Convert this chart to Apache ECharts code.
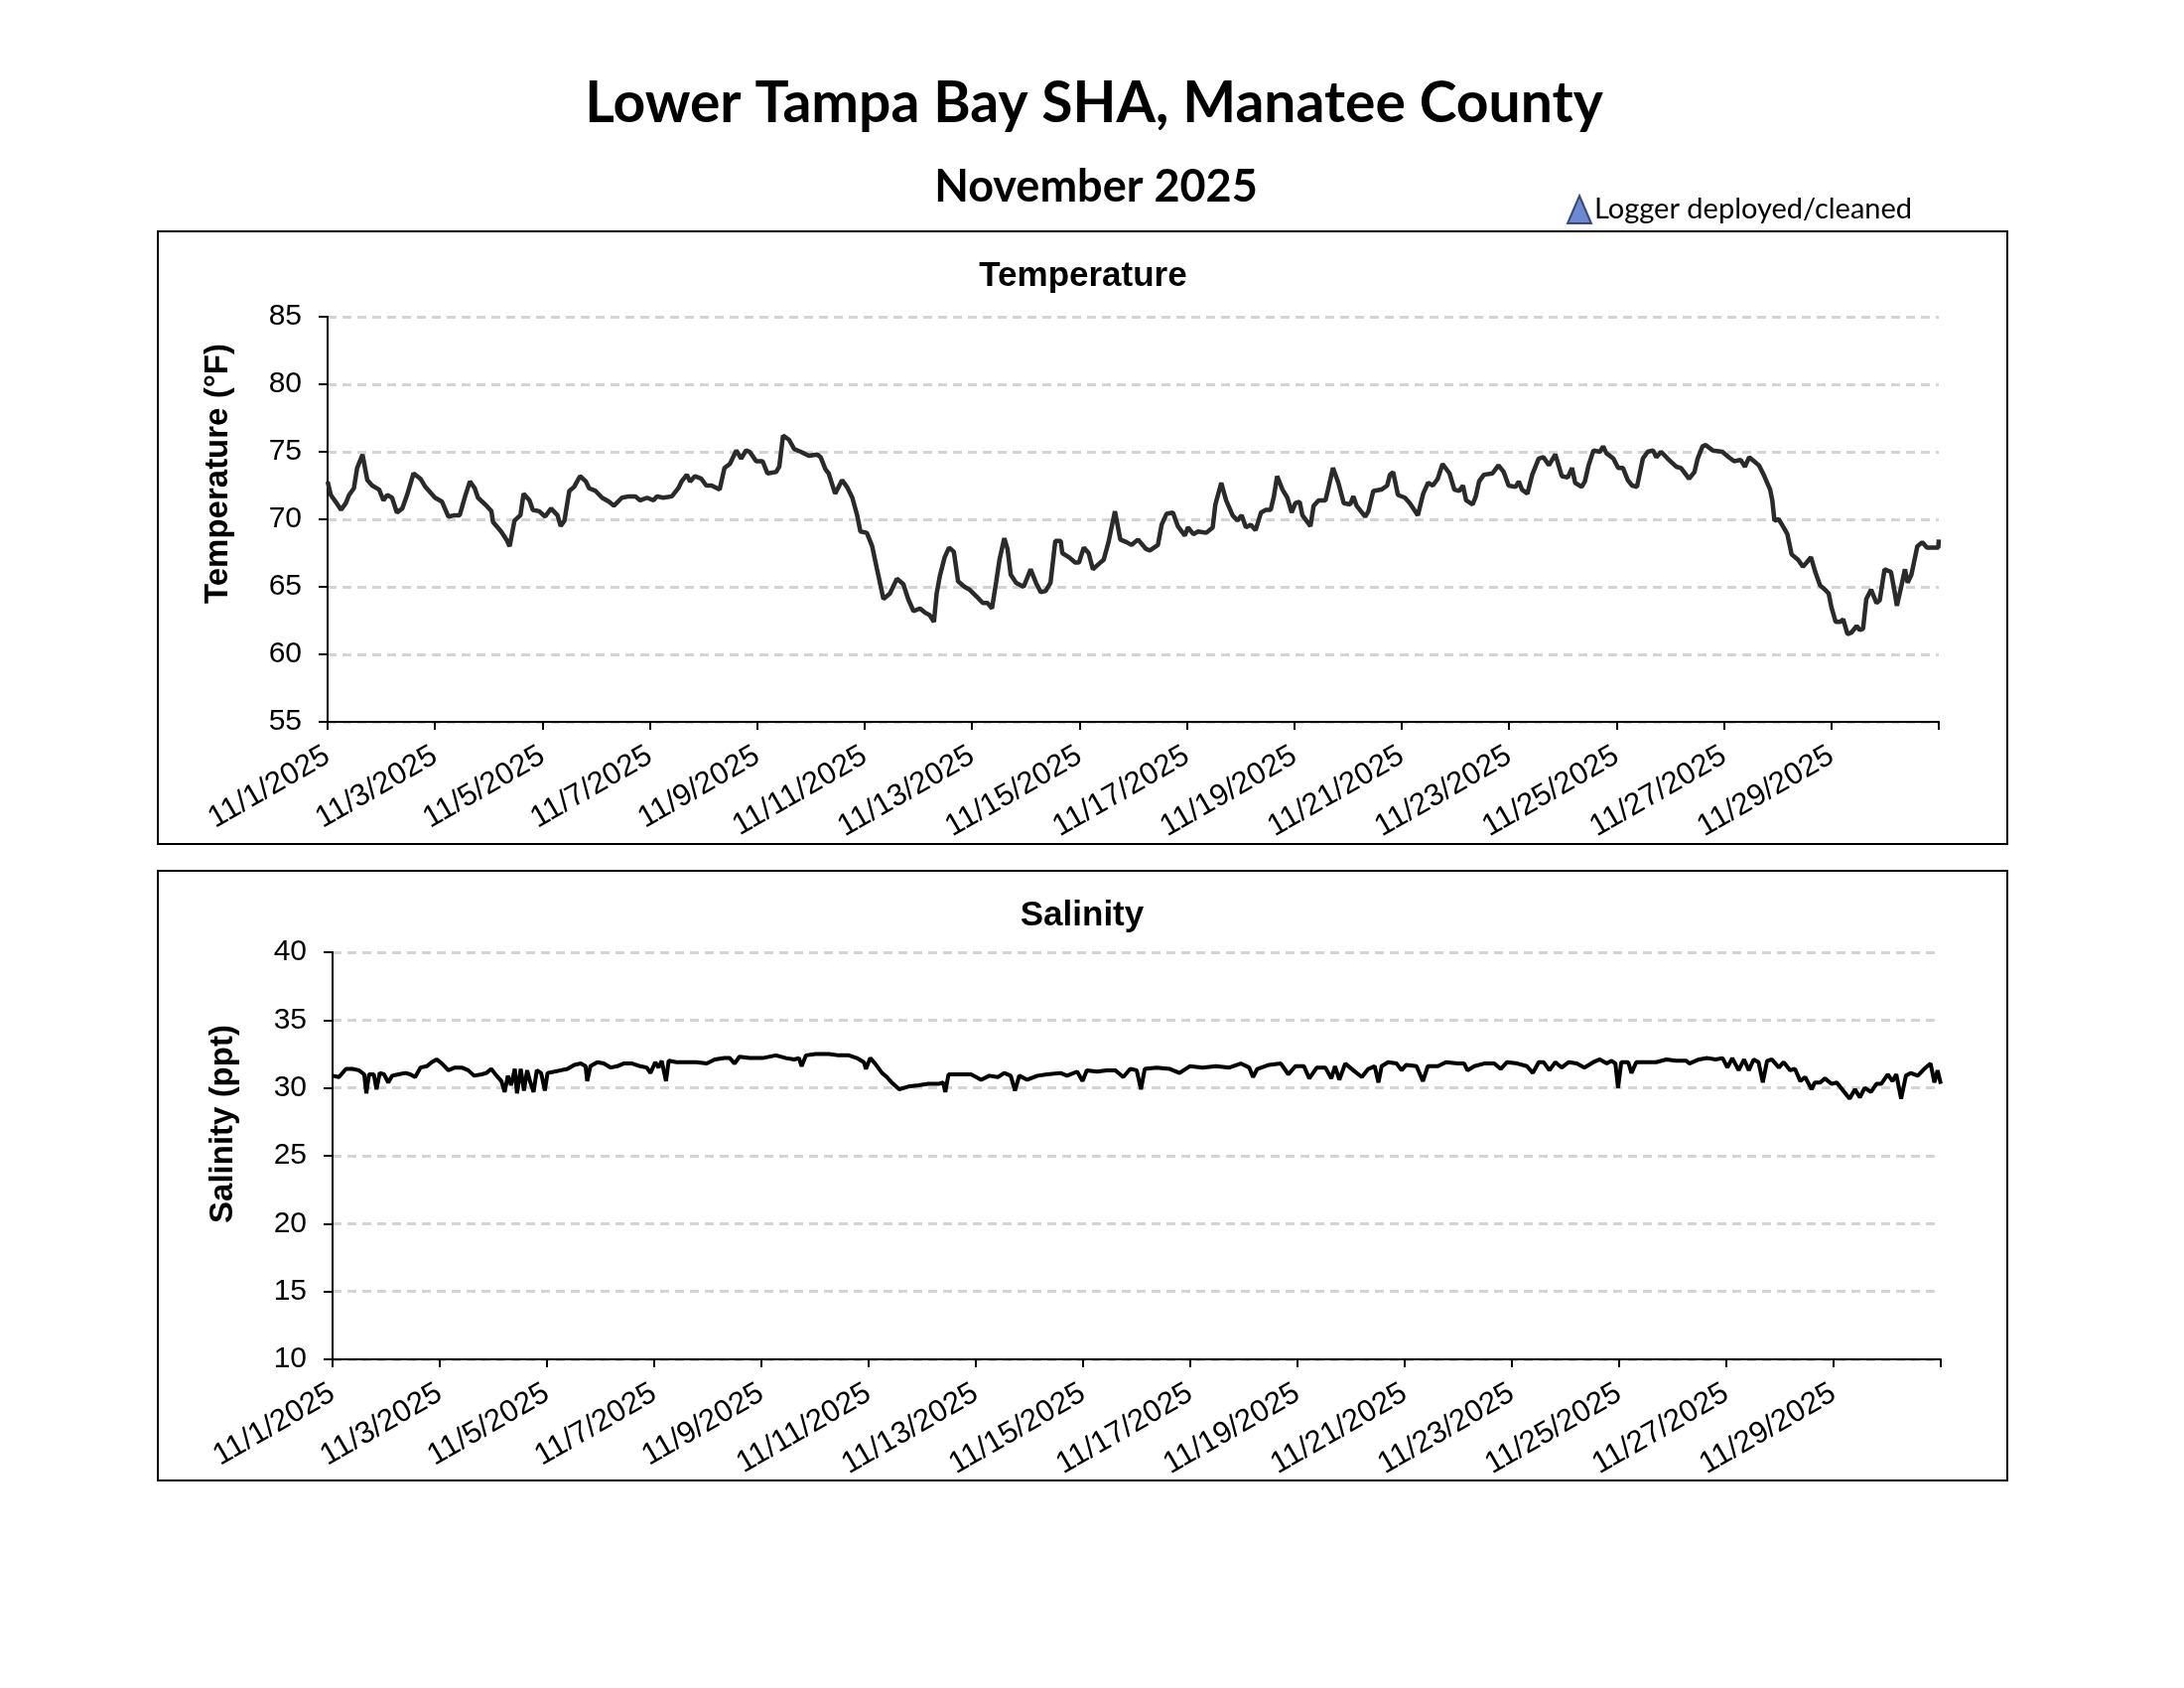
<!DOCTYPE html>
<html>
<head>
<meta charset="utf-8">
<script src="https://cdn.jsdelivr.net/npm/echarts@6/dist/echarts.min.js"></script>
<style>
  html, body { margin: 0; padding: 0; background: #fff; }
  #chart { width: 2200px; height: 1700px; }
</style>
</head>
<body>
<div id="chart"></div>
<script>
// Days since 11/1/2025 00:00 and logger readings
const tempDay = [
  0.00, 0.06, 0.15, 0.25, 0.34, 0.40, 0.49, 0.55, 0.65, 0.74, 0.83, 0.96, 1.04, 1.11, 1.20, 1.29, 1.39, 1.48,
  1.60, 1.73, 1.82, 2.00, 2.13, 2.25, 2.37, 2.46, 2.56, 2.65, 2.74, 2.80, 2.96, 3.05, 3.08, 3.23, 3.33, 3.39,
  3.48, 3.59, 3.65, 3.76, 3.82, 3.94, 4.05, 4.16, 4.28, 4.34, 4.41, 4.50, 4.59, 4.70, 4.81, 4.87, 4.99, 5.11,
  5.24, 5.33, 5.48, 5.61, 5.73, 5.82, 5.95, 6.07, 6.13, 6.25, 6.41, 6.53, 6.59, 6.69, 6.75, 6.84, 6.96, 7.05,
  7.15, 7.30, 7.39, 7.49, 7.61, 7.70, 7.79, 7.86, 7.98, 8.10, 8.19, 8.35, 8.41, 8.48, 8.59, 8.69, 8.81, 8.96,
  9.12, 9.18, 9.27, 9.33, 9.45, 9.58, 9.67, 9.77, 9.86, 9.92, 10.04, 10.14, 10.23, 10.35, 10.47, 10.60, 10.72,
  10.81, 10.91, 11.03, 11.12, 11.21, 11.29, 11.34, 11.40, 11.49, 11.57, 11.66, 11.74, 11.86, 11.95, 12.08,
  12.20, 12.29, 12.37, 12.45, 12.51, 12.60, 12.66, 12.72, 12.82, 12.96, 13.09, 13.19, 13.28, 13.37, 13.46,
  13.55, 13.65, 13.68, 13.80, 13.92, 13.99, 14.08, 14.17, 14.25, 14.36, 14.45, 14.54, 14.66, 14.76, 14.88,
  14.97, 15.09, 15.24, 15.31, 15.46, 15.53, 15.62, 15.74, 15.83, 15.96, 16.02, 16.12, 16.21, 16.36, 16.48,
  16.53, 16.64, 16.73, 16.85, 16.94, 17.02, 17.10, 17.19, 17.28, 17.38, 17.47, 17.56, 17.62, 17.68, 17.78,
  17.87, 17.95, 18.02, 18.10, 18.15, 18.30, 18.36, 18.45, 18.58, 18.64, 18.72, 18.82, 18.92, 19.04, 19.10,
  19.16, 19.32, 19.38, 19.47, 19.62, 19.73, 19.78, 19.84, 19.93, 20.06, 20.15, 20.30, 20.40, 20.49, 20.58,
  20.67, 20.76, 20.89, 20.98, 21.07, 21.14, 21.20, 21.32, 21.38, 21.44, 21.53, 21.69, 21.80, 21.90, 21.99,
  22.12, 22.18, 22.24, 22.34, 22.43, 22.55, 22.64, 22.74, 22.86, 22.98, 23.09, 23.17, 23.23, 23.35, 23.41,
  23.48, 23.57, 23.69, 23.75, 23.81, 23.94, 24.03, 24.12, 24.21, 24.29, 24.38, 24.49, 24.58, 24.68, 24.74,
  24.83, 24.95, 25.11, 25.20, 25.35, 25.45, 25.51, 25.60, 25.66, 25.79, 25.97, 26.09, 26.19, 26.31, 26.39,
  26.47, 26.56, 26.65, 26.74, 26.86, 26.90, 26.94, 27.02, 27.11, 27.18, 27.26, 27.38, 27.47, 27.54, 27.62,
  27.70, 27.79, 27.88, 27.95, 28.00, 28.08, 28.16, 28.22, 28.30, 28.37, 28.47, 28.53, 28.59, 28.65, 28.74,
  28.84, 28.90, 28.99, 29.11, 29.17, 29.22, 29.30, 29.37, 29.42, 29.49, 29.60, 29.69, 29.78, 29.91, 29.99, 30.00
];
const tempF = [
  72.8, 71.8, 71.3, 70.7, 71.2, 71.8, 72.3, 73.8, 74.8, 72.9, 72.5, 72.2, 71.4, 71.8, 71.6, 70.5, 70.8, 71.8,
  73.4, 73.0, 72.4, 71.6, 71.3, 70.2, 70.3, 70.3, 71.7, 72.8, 72.3, 71.6, 71.0, 70.6, 69.8, 69.1, 68.5, 68.0,
  69.9, 70.3, 71.9, 71.4, 70.7, 70.6, 70.2, 70.8, 70.3, 69.5, 69.9, 72.1, 72.4, 73.2, 72.8, 72.3, 72.1, 71.6,
  71.3, 71.0, 71.6, 71.7, 71.7, 71.4, 71.6, 71.4, 71.7, 71.6, 71.7, 72.3, 72.8, 73.3, 72.8, 73.2, 73.0, 72.5,
  72.5, 72.2, 73.8, 74.1, 75.1, 74.5, 75.1, 75.0, 74.3, 74.3, 73.4, 73.5, 73.9, 76.2, 75.9, 75.2, 75.0, 74.7,
  74.8, 74.6, 73.7, 73.4, 71.9, 72.9, 72.4, 71.6, 70.3, 69.1, 69.0, 68.0, 66.3, 64.1, 64.5, 65.6, 65.2,
  64.1, 63.2, 63.4, 63.1, 62.9, 62.4, 64.5, 65.8, 67.2, 67.9, 67.6, 65.4, 65.0, 64.8, 64.3,
  63.8, 63.8, 63.4, 65.4, 67.0, 68.6, 67.8, 65.9, 65.3, 65.0, 66.3, 65.3, 64.6, 64.7, 65.3,
  68.4, 68.4, 67.5, 67.2, 66.8, 66.8, 67.9, 67.5, 66.3, 66.7, 67.0, 68.3, 70.6, 68.5, 68.3,
  68.1, 68.5, 67.8, 67.7, 68.1, 69.6, 70.4, 70.5, 69.5, 68.8, 69.4, 68.9, 69.1, 69.0, 69.4,
  71.1, 72.7, 71.4, 70.3, 69.9, 70.3, 69.4, 69.6, 69.2, 70.5, 70.7, 70.7, 71.7, 73.2, 72.2,
  71.6, 70.5, 71.2, 71.3, 70.3, 69.5, 71.0, 71.4, 71.4, 72.4, 73.8, 72.7, 71.2, 71.1, 71.7,
  71.0, 70.2, 70.6, 72.1, 72.2, 72.5, 73.3, 73.5, 71.8, 71.6, 71.2, 70.3, 71.9, 72.7, 72.5,
  73.0, 74.1, 73.4, 72.2, 72.1, 72.5, 71.4, 71.1, 71.7, 72.8, 73.3, 73.4, 74.0, 73.5, 72.5,
  72.4, 72.8, 72.2, 71.9, 73.3, 74.5, 74.6, 74.0, 74.8, 73.2, 73.1, 73.8, 72.7, 72.4, 72.8,
  74.0, 75.1, 75.0, 75.4, 74.9, 74.5, 73.8, 73.8, 72.9, 72.5, 72.4, 74.5, 75.0, 75.1, 74.6,
  75.0, 74.5, 73.9, 73.8, 73.0, 73.5, 74.5, 75.4, 75.5, 75.1, 75.0, 74.6, 74.3, 74.4, 73.9,
  74.6, 74.3, 74.0, 73.3, 72.2, 71.4, 69.9, 70.0, 69.4, 68.9, 67.4, 67.0, 66.5, 66.8, 67.2,
  66.1, 65.1, 64.8, 64.5, 63.5, 62.4, 62.4, 62.6, 61.5, 61.6, 62.1, 61.8, 61.9, 64.1, 64.8,
  63.8, 64.0, 66.3, 66.1, 64.8, 63.6, 65.0, 66.3, 65.3, 65.9, 68.0, 68.3, 67.9, 67.9, 67.9, 68.5
];

const salDay = [
  0.00, 0.12, 0.25, 0.37, 0.49, 0.59, 0.63, 0.68, 0.77, 0.82, 0.88, 0.96, 1.04, 1.11, 1.23, 1.36, 1.45, 1.54,
  1.64, 1.76, 1.85, 1.94, 2.04, 2.16, 2.28, 2.41, 2.53, 2.64, 2.78, 2.87, 2.96, 3.06, 3.15, 3.21, 3.27, 3.33,
  3.40, 3.44, 3.51, 3.57, 3.63, 3.69, 3.75, 3.81, 3.89, 3.96, 4.01, 4.14, 4.26, 4.38, 4.51, 4.63, 4.72, 4.75,
  4.81, 4.94, 5.06, 5.19, 5.31, 5.43, 5.59, 5.74, 5.86, 5.93, 6.02, 6.08, 6.14, 6.22, 6.27, 6.42, 6.60, 6.79,
  6.98, 7.13, 7.31, 7.41, 7.50, 7.59, 7.78, 8.02, 8.27, 8.46, 8.61, 8.70, 8.75, 8.83, 9.01, 9.26, 9.44, 9.63,
  9.78, 9.91, 9.95, 10.03, 10.12, 10.25, 10.34, 10.43, 10.57, 10.74, 10.93, 11.11, 11.30, 11.39, 11.43, 11.49,
  11.67, 11.91, 12.10, 12.25, 12.41, 12.53, 12.65, 12.73, 12.81, 12.96, 13.15, 13.33, 13.58, 13.70, 13.89,
  13.99, 14.07, 14.26, 14.44, 14.60, 14.75, 14.88, 15.00, 15.08, 15.15, 15.37, 15.62, 15.80, 15.99, 16.23,
  16.48, 16.73, 16.94, 17.10, 17.17, 17.25, 17.47, 17.69, 17.83, 17.96, 18.12, 18.22, 18.36, 18.52, 18.63,
  18.70, 18.78, 18.89, 19.04, 19.20, 19.32, 19.44, 19.51, 19.57, 19.69, 19.85, 19.94, 20.03, 20.22, 20.34,
  20.43, 20.62, 20.77, 20.99, 21.11, 21.17, 21.30, 21.48, 21.67, 21.79, 21.91, 22.10, 22.28, 22.39, 22.50,
  22.59, 22.70, 22.81, 22.93, 23.06, 23.21, 23.35, 23.52, 23.64, 23.77, 23.86, 23.93, 23.98, 24.04, 24.17,
  24.23, 24.32, 24.51, 24.69, 24.88, 25.06, 25.25, 25.31, 25.49, 25.65, 25.80, 25.93, 26.02, 26.11, 26.23,
  26.33, 26.42, 26.51, 26.60, 26.68, 26.76, 26.85, 26.98, 27.07, 27.19, 27.28, 27.38, 27.47, 27.59, 27.65,
  27.75, 27.84, 27.96, 28.06, 28.18, 28.30, 28.40, 28.49, 28.58, 28.70, 28.80, 28.89, 29.01, 29.10, 29.17,
  29.26, 29.35, 29.44, 29.57, 29.69, 29.81, 29.88, 29.94, 30.00
];
const salPpt = [
  30.9, 30.8, 31.4, 31.4, 31.3, 31.0, 29.6, 31.0, 31.0, 29.9, 31.1, 31.0, 30.4, 30.9, 31.0, 31.1, 31.0, 30.8,
  31.5, 31.6, 31.9, 32.1, 31.8, 31.3, 31.5, 31.5, 31.3, 30.9, 31.0, 31.1, 31.4, 30.9, 30.5, 29.7, 30.9, 30.2,
  31.4, 29.6, 31.4, 29.8, 31.3, 30.4, 29.7, 31.3, 31.1, 29.8, 31.1, 31.2, 31.3, 31.4, 31.7, 31.8, 31.6, 30.5,
  31.6, 31.9, 31.8, 31.5, 31.6, 31.8, 31.8, 31.6, 31.5, 31.1, 31.9, 31.5, 32.0, 30.5, 32.0, 31.9, 31.9, 31.9,
  31.8, 32.1, 32.2, 32.2, 31.8, 32.3, 32.2, 32.2, 32.4, 32.2, 32.1, 32.2, 31.6, 32.4, 32.5, 32.5, 32.4, 32.4,
  32.2, 31.9, 31.4, 32.2, 31.8, 31.1, 30.8, 30.4, 29.9, 30.1, 30.2, 30.3, 30.3, 30.4, 29.7, 31.0,
  31.0, 31.0, 30.6, 30.9, 30.8, 31.1, 30.9, 29.8, 30.9, 30.6, 30.9, 31.0, 31.1, 30.9, 31.2,
  30.5, 31.3, 31.2, 31.3, 31.3, 30.8, 31.4, 31.3, 29.9, 31.4, 31.5, 31.4, 31.1, 31.6, 31.5,
  31.6, 31.5, 31.8, 31.5, 30.8, 31.4, 31.7, 31.8, 31.0, 31.6, 31.6, 30.7, 31.5, 31.5, 30.7,
  31.6, 30.6, 31.8, 31.3, 30.8, 31.4, 31.6, 30.4, 31.6, 31.9, 31.8, 31.3, 31.7, 31.6, 30.5,
  31.6, 31.6, 31.9, 31.8, 31.8, 31.3, 31.6, 31.8, 31.8, 31.4, 31.9, 31.8, 31.6, 31.1, 31.9,
  31.9, 31.3, 31.9, 31.5, 31.9, 31.8, 31.5, 31.9, 32.1, 31.8, 32.0, 31.8, 30.0, 31.9, 31.9,
  31.1, 31.9, 31.9, 31.9, 32.1, 32.0, 32.0, 31.8, 32.1, 32.2, 32.1, 32.2, 31.5, 32.2, 31.3,
  32.1, 31.3, 32.1, 31.9, 30.4, 32.0, 32.1, 31.5, 31.9, 31.3, 31.4, 30.5, 30.8, 29.9, 30.4,
  30.4, 30.7, 30.3, 30.4, 29.8, 29.2, 29.9, 29.3, 30.0, 29.7, 30.3, 30.3, 31.0, 30.5, 31.0,
  29.2, 30.9, 31.1, 30.9, 31.4, 31.8, 30.4, 31.3, 30.3
];

const dayLabel = (v) => (v < 30 ? '11/' + (v + 1) + '/2025' : '');

const AXIS_FONT = 'Liberation Sans, Arial, sans-serif';
const TITLE_FONT = 'Lato, Open Sans, sans-serif';

function xAxisFor(gridIndex) {
  return {
    type: 'value', gridIndex, min: 0, max: 30, interval: 2,
    axisLine: { show: true, onZero: false, lineStyle: { color: '#000', width: 2 } },
    axisTick: { show: true, length: 8, lineStyle: { color: '#000', width: 2 } },
    axisLabel: {
      rotate: 30, margin: 32, color: '#000', fontSize: 31, fontFamily: AXIS_FONT,
      formatter: dayLabel
    },
    splitLine: { show: false }
  };
}

// shiftUp moves the rotated axis name above the plot's middle, as in the source
function yAxisFor(gridIndex, name, min, max, shiftUp) {
  return {
    type: 'value', gridIndex, min, max, interval: 5,
    name, nameLocation: 'middle', nameGap: 94,
    nameTextStyle: {
      color: '#000', fontSize: 33, fontWeight: 'bold', fontFamily: AXIS_FONT,
      padding: [0, 0, 0, shiftUp * 2]
    },
    axisLine: { show: true, lineStyle: { color: '#000', width: 2 } },
    axisTick: { show: true, length: 9, lineStyle: { color: '#000', width: 2 } },
    axisLabel: { margin: 26, color: '#000', fontSize: 30, fontFamily: AXIS_FONT },
    splitLine: { show: true, lineStyle: { color: '#d4d4d4', width: 3, type: [9, 6] } }
  };
}

const chart = echarts.init(document.getElementById('chart'), null, { renderer: 'canvas' });

chart.setOption({
  backgroundColor: '#fff',
  animation: false,
  title: [
    { text: 'Lower Tampa Bay SHA, Manatee County', left: 1102, top: 76, textAlign: 'center', padding: 0,
      textStyle: { fontFamily: TITLE_FONT, fontSize: 57, fontWeight: 'bold', color: '#000' } },
    { text: 'November 2025', left: 1104, top: 166, textAlign: 'center', padding: 0,
      textStyle: { fontFamily: TITLE_FONT, fontSize: 45, fontWeight: 'bold', color: '#000' } },
    { text: 'Temperature', left: 1091, top: 261, textAlign: 'center', padding: 0,
      textStyle: { fontFamily: AXIS_FONT, fontSize: 35, fontWeight: 'bold', color: '#000' } },
    { text: 'Salinity', left: 1090, top: 905, textAlign: 'center', padding: 0,
      textStyle: { fontFamily: AXIS_FONT, fontSize: 35, fontWeight: 'bold', color: '#000' } }
  ],
  legend: {
    left: 1578, top: 196, padding: 0,
    data: [{ name: 'Logger deployed/cleaned', icon: 'triangle' }],
    itemWidth: 24, itemHeight: 28,
    itemStyle: { color: '#4a6cc8', borderColor: '#1c2c5c', borderWidth: 2 },
    textStyle: { fontFamily: TITLE_FONT, fontSize: 29, color: '#000', padding: [0, 0, 0, -2] }
  },
  graphic: [
    { type: 'rect', shape: { x: 159, y: 233, width: 1863, height: 617 },
      style: { fill: 'none', stroke: '#000', lineWidth: 2 }, z: 0 },
    { type: 'rect', shape: { x: 159, y: 877, width: 1863, height: 614 },
      style: { fill: 'none', stroke: '#000', lineWidth: 2 }, z: 0 }
  ],
  grid: [
    { left: 330, right: 247, top: 319, height: 408 },
    { left: 335, right: 245, top: 959, height: 410 }
  ],
  xAxis: [xAxisFor(0), xAxisFor(1)],
  yAxis: [
    yAxisFor(0, 'Temperature (°F)', 55, 85, 46),
    yAxisFor(1, 'Salinity (ppt)', 10, 40, 32)
  ],
  series: [
    {
      name: 'Temperature', type: 'line', xAxisIndex: 0, yAxisIndex: 0,
      data: tempDay.map((d, i) => [d, tempF[i]]),
      showSymbol: false, lineStyle: { color: '#2a2a2a', width: 4.5 }, z: 3
    },
    {
      name: 'Salinity', type: 'line', xAxisIndex: 1, yAxisIndex: 1,
      data: salDay.map((d, i) => [d, salPpt[i]]),
      showSymbol: false, lineStyle: { color: '#000', width: 4 }, z: 3
    },
    {
      name: 'Logger deployed/cleaned', type: 'scatter', xAxisIndex: 0, yAxisIndex: 0,
      symbol: 'triangle', data: [],
      itemStyle: { color: '#4a6cc8', borderColor: '#1c2c5c', borderWidth: 2 }
    }
  ]
});
</script>
</body>
</html>
